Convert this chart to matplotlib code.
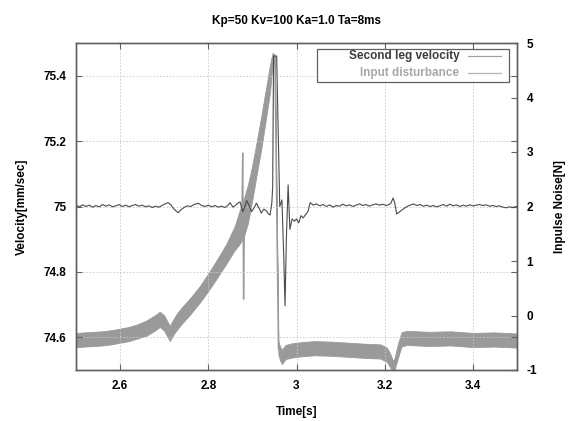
import matplotlib
matplotlib.use('Agg')
import numpy as np
from matplotlib import pyplot as plt
from matplotlib.lines import Line2D
from matplotlib.patches import Rectangle

plt.rcParams['font.family'] = ['Liberation Sans', 'DejaVu Sans']
plt.rcParams['font.weight'] = 'bold'
plt.rcParams['axes.labelweight'] = 'bold'
plt.rcParams['axes.titleweight'] = 'bold'
plt.rcParams['font.size'] = 8.5
plt.rcParams['axes.unicode_minus'] = False

title = 'Kp=50 Kv=100 Ka=1.0 Ta=8ms'

# second leg velocity [mm/sec], left axis
vel_t = [2.500, 2.508, 2.515, 2.522, 2.530, 2.538, 2.545, 2.553, 2.560, 2.568,
         2.575, 2.583, 2.590, 2.598, 2.605, 2.613, 2.620, 2.628, 2.635, 2.643,
         2.650, 2.658, 2.665, 2.673, 2.680, 2.688, 2.695, 2.702, 2.709, 2.716,
         2.722, 2.728, 2.732, 2.738, 2.745, 2.752, 2.760, 2.768, 2.777, 2.785,
         2.793, 2.800, 2.808, 2.815, 2.823, 2.830, 2.838, 2.845, 2.849, 2.856,
         2.862, 2.867, 2.872, 2.878, 2.882, 2.887, 2.893, 2.898, 2.904, 2.909,
         2.915, 2.920, 2.926, 2.932, 2.936, 2.940, 2.944, 2.946, 2.948, 2.955,
         2.962, 2.967, 2.971, 2.974, 2.977, 2.981, 2.985, 2.990, 2.995, 3.000,
         3.005, 3.010, 3.015, 3.020, 3.026, 3.031, 3.038, 3.045, 3.053, 3.060,
         3.068, 3.075, 3.083, 3.090, 3.098, 3.105, 3.113, 3.120, 3.128, 3.135,
         3.143, 3.150, 3.158, 3.165, 3.173, 3.180, 3.188, 3.195, 3.203, 3.210,
         3.214, 3.219, 3.223, 3.227, 3.232, 3.238, 3.245, 3.252, 3.258, 3.265,
         3.273, 3.280, 3.288, 3.295, 3.303, 3.310, 3.318, 3.325, 3.333, 3.340,
         3.348, 3.355, 3.363, 3.370, 3.378, 3.385, 3.393, 3.400, 3.408, 3.415,
         3.423, 3.430, 3.438, 3.445, 3.453, 3.460, 3.468, 3.475, 3.483, 3.490,
         3.500]
vel_v = [75.004, 74.999, 75.005, 75.000, 75.004, 74.998, 75.003, 74.999, 75.006, 75.001,
         75.005, 74.999, 75.002, 75.006, 75.000, 75.004, 74.999, 75.003, 75.006, 75.001,
         75.004, 74.999, 75.002, 74.997, 75.001, 74.998, 75.003, 75.008, 75.012, 75.004,
         74.992, 74.985, 74.981, 74.990, 74.997, 75.002, 75.000, 75.006, 75.010, 75.003,
         75.000, 75.004, 74.999, 75.003, 74.998, 75.001, 74.997, 75.004, 75.012, 74.998,
         75.004, 75.010, 75.014, 74.984, 74.996, 75.018, 75.002, 74.984, 74.996, 75.010,
         74.995, 74.980, 74.992, 74.986, 74.978, 74.974, 75.010, 75.060, 75.460, 75.460,
         75.000, 75.020, 74.850, 74.696, 74.900, 75.066, 74.930, 74.962, 74.955, 74.962,
         74.950, 74.972, 74.965, 74.974, 74.985, 75.012, 75.004, 75.008, 75.002, 75.006,
         75.000, 75.005, 74.998, 75.003, 75.001, 75.007, 75.002, 75.005, 75.000, 75.004,
         75.008, 75.003, 75.006, 75.001, 75.005, 75.008, 75.004, 75.007, 75.003, 75.006,
         75.010, 75.026, 75.010, 74.977, 74.982, 74.988, 74.995, 75.001, 75.004, 75.008,
         75.003, 75.006, 75.001, 75.004, 75.000, 75.003, 74.999, 75.002, 75.006, 75.001,
         75.007, 75.002, 75.005, 75.000, 75.004, 75.001, 75.005, 75.002, 75.004, 75.006,
         75.003, 75.005, 75.001, 75.003, 75.000, 75.002, 74.998, 74.996, 74.999, 74.997,
         75.000]

# input disturbance [N], right axis: band centre and half thickness of the noise
dist_t = [2.500, 2.520, 2.540, 2.560, 2.580, 2.600, 2.620, 2.640, 2.660, 2.680,
          2.690, 2.700, 2.708, 2.713, 2.720, 2.730, 2.740, 2.760, 2.780, 2.800,
          2.820, 2.840, 2.860, 2.870, 2.880, 2.890, 2.900, 2.910, 2.920, 2.930,
          2.940, 2.946, 2.951, 2.955, 2.959, 2.963, 2.967, 2.975, 2.990, 3.010,
          3.040, 3.080, 3.120, 3.160, 3.190, 3.205, 3.212, 3.218, 3.222, 3.230,
          3.238, 3.250, 3.300, 3.350, 3.400, 3.450, 3.500]
dist_n = [-0.45, -0.44, -0.43, -0.42, -0.40, -0.37, -0.34, -0.29, -0.23, -0.13,
          -0.07, -0.14, -0.26, -0.33, -0.22, -0.10, 0.00, 0.18, 0.38, 0.61,
          0.86, 1.12, 1.42, 1.60, 1.78, 2.05, 2.45, 2.90, 3.35, 3.85,
          4.35, 4.74, 4.70, 2.00, -0.60, -0.70, -0.76, -0.67, -0.64, -0.62,
          -0.60, -0.61, -0.63, -0.65, -0.66, -0.72, -0.82, -0.92, -0.90, -0.65,
          -0.44, -0.41, -0.43, -0.42, -0.45, -0.44, -0.46]
dist_w = [0.13, 0.13, 0.13, 0.13, 0.13, 0.13, 0.13, 0.13, 0.14, 0.14,
          0.14, 0.14, 0.14, 0.14, 0.14, 0.15, 0.15, 0.15, 0.15, 0.16,
          0.17, 0.18, 0.22, 0.30, 0.35, 0.35, 0.32, 0.30, 0.30, 0.28,
          0.25, 0.08, 0.08, 0.05, 0.12, 0.13, 0.13, 0.13, 0.13, 0.13,
          0.13, 0.13, 0.13, 0.13, 0.13, 0.13, 0.13, 0.10, 0.10, 0.13,
          0.13, 0.13, 0.13, 0.13, 0.13, 0.13, 0.13]
# impulse spike near t=2.88
spike_t = [2.876, 2.878, 2.880, 2.882]
spike_n = [1.70, 2.98, 0.30, 1.82]

vel_color = '#4a4a4a'
dist_color = '#9a9a9a'
frame = '#606060'

fig = plt.figure(figsize=(5.76, 4.21), dpi=100)
ax = fig.add_axes([76 / 576, 51 / 421, 441 / 576, 327 / 421])
ax2 = ax.twinx()

lo = np.array(dist_n) - np.array(dist_w)
hi = np.array(dist_n) + np.array(dist_w)
ax2.fill_between(dist_t, lo, hi, color=dist_color, lw=0.6, edgecolor=dist_color)
ax2.plot(dist_t, dist_n, color=dist_color, lw=1.0)
ax2.plot(spike_t, spike_n, color=dist_color, lw=1.0)
ax2.set_ylim(-1, 5)
ax2.set_yticks([-1, 0, 1, 2, 3, 4, 5])
ax2.set_ylabel('Inpulse Noise[N]', labelpad=12)

ax.set_zorder(ax2.get_zorder() + 1)
ax.patch.set_visible(False)
ax.plot(vel_t, vel_v, color=vel_color, lw=0.8)
ax.set_xlim(2.5, 3.5)
ax.set_ylim(74.5, 75.5)
ax.set_xticks([2.6, 2.8, 3.0, 3.2, 3.4])
ax.set_xticklabels(['2.6', '2.8', '3', '3.2', '3.4'])
ax.set_yticks([74.6, 74.8, 75.0, 75.2, 75.4])
ax.set_yticklabels(['74.6', '74.8', '75', '75.2', '75.4'])
ax.grid(True, color='#c8c8c8', ls=(0, (2, 2)), lw=0.6)
ax.set_xlabel('Time[s]', labelpad=10)
ax.set_ylabel('Velocity[mm/sec]', labelpad=11)
ax.set_title(title, pad=14, fontsize=8.5)

for a in (ax, ax2):
    for s in a.spines.values():
        s.set_color(frame)
        s.set_linewidth(1.0)
ax.tick_params(direction='in', length=4, color=frame, width=0.8,
               top=True, right=True, pad=7)
ax2.tick_params(direction='in', length=4, color=frame, width=0.8, pad=7)

# gnuplot style key: right aligned text, sample line on the right
ax.add_patch(Rectangle((0.546, 0.882), 0.4365, 0.099, transform=ax.transAxes,
                       fill=True, facecolor='white', edgecolor=frame, lw=0.9, zorder=5))
ax.text(0.869, 0.960, 'Second leg velocity', transform=ax.transAxes,
        ha='right', va='center', color='#3c3c3c', zorder=6)
ax.text(0.869, 0.907, 'Input disturbance', transform=ax.transAxes,
        ha='right', va='center', color='#a8a8a8', zorder=6)
ax.add_line(Line2D([0.888, 0.963], [0.960, 0.960], transform=ax.transAxes,
                   color='#a0a0a0', lw=0.9, zorder=6))
ax.add_line(Line2D([0.888, 0.963], [0.907, 0.907], transform=ax.transAxes,
                   color='#b4b4b4', lw=0.9, zorder=6))

fig.savefig('out.png', dpi=100)
